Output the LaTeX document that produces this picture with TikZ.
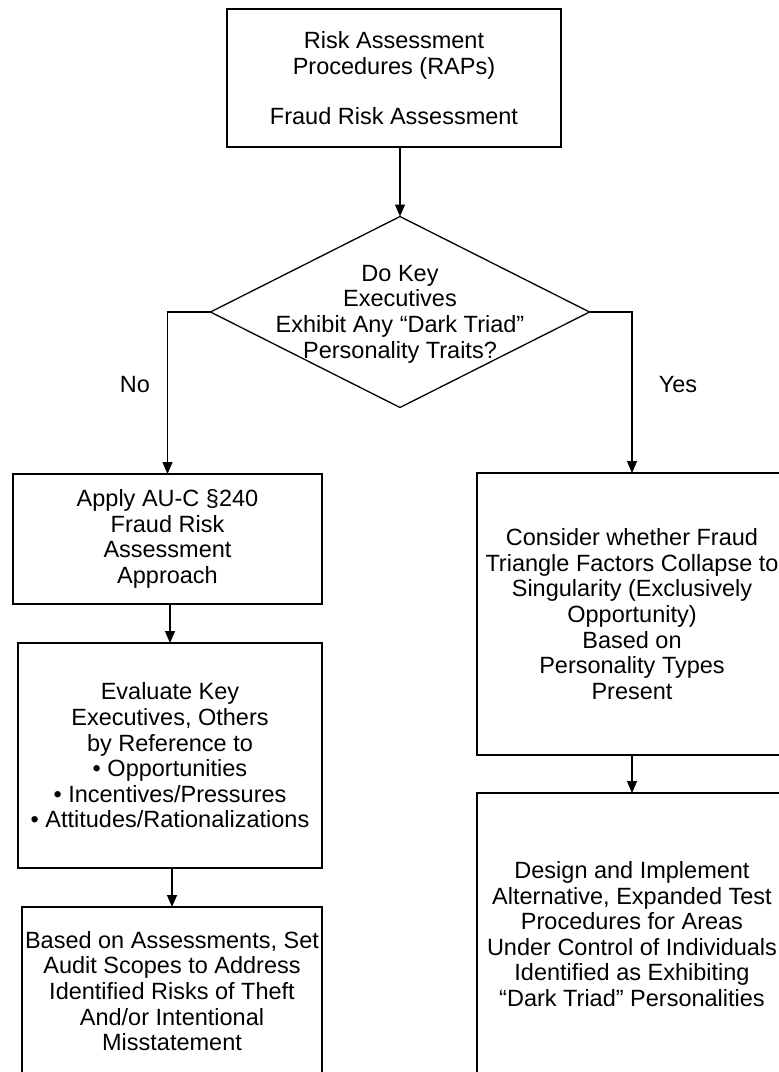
\documentclass[tikz,border=0pt]{standalone}
\usepackage{fontspec}
\setmainfont{Liberation Sans}
\usetikzlibrary{shapes.geometric,arrows.meta}
\begin{document}
\begin{tikzpicture}[x=1pt,y=-1pt,
  every node/.style={font=\fontsize{23.5}{25.6}\selectfont, align=center},
  box/.style={draw, line width=1.3pt, rectangle, inner sep=0pt, outer sep=0pt},
  arr/.style={line width=1.3pt, -{Triangle[width=10pt,length=12pt]}},
  lbl/.style={inner sep=0pt}]
\useasboundingbox (0,0) rectangle (779,1072);
\node[box, minimum width=334pt, minimum height=138pt] (top) at (394,78)
  {Risk Assessment\\Procedures (RAPs)\\[24pt]Fraud Risk Assessment};
\node[draw, diamond, line width=1.3pt, minimum width=379pt, minimum height=191pt, inner sep=0pt, outer sep=0pt] (d) at (400,312) {};
\node[lbl] (dt) at (400,314) {Do Key\\Executives\\Exhibit Any “Dark Triad”\\Personality Traits?};
\node[box, minimum width=309pt, minimum height=130pt] (b1) at (167.5,539)
  {Apply AU-C §240\\Fraud Risk\\Assessment\\Approach};
\node[box, minimum width=304pt, minimum height=225pt] (b2) at (170,755.5)
  {Evaluate Key\\Executives, Others\\by Reference to\\• Opportunities\\• Incentives/Pressures\\• Attitudes/Rationalizations};
\node[box, minimum width=300pt, minimum height=168pt] (b3) at (172,991)
  {Based on Assessments, Set\\Audit Scopes to Address\\Identified Risks of Theft\\And/or Intentional\\Misstatement};
\node[box, minimum width=310pt, minimum height=282pt] (r1) at (632,614)
  {Consider whether Fraud\\Triangle Factors Collapse to\\Singularity (Exclusively\\Opportunity)\\Based on\\Personality Types\\Present};
\node[box, minimum width=310pt, minimum height=282pt] (r2) at (632,934)
  {Design and Implement\\Alternative, Expanded Test\\Procedures for Areas\\Under Control of Individuals\\Identified as Exhibiting\\“Dark Triad” Personalities};
\node[lbl] (no) at (135,385) {No};
\node[lbl] (yes) at (678,385) {Yes};
\draw[arr] (d.north |- top.south) -- (d.north);
\draw[arr] (d.west) -| (b1.north);
\draw[arr] (d.east) -| (r1.north);
\draw[arr] (b2.north |- b1.south) -- (b2.north);
\draw[arr] (b3.north |- b2.south) -- (b3.north);
\draw[arr] (r1.south) -- (r2.north);
\end{tikzpicture}
\end{document}
